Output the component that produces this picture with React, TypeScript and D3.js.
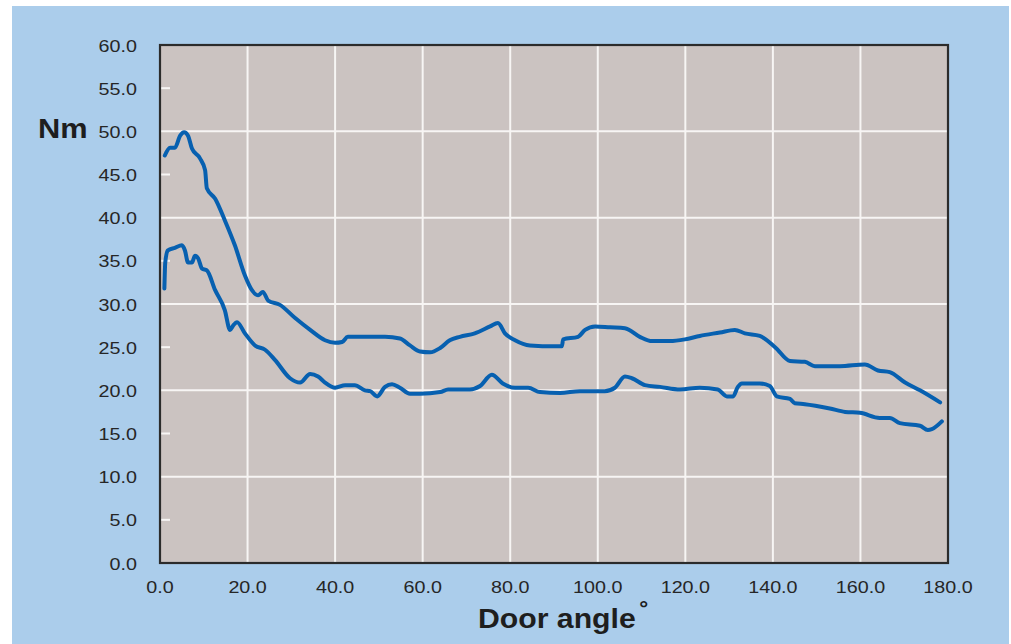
import { useEffect, useRef } from 'react';
import * as d3 from 'd3';

// upper curve (opening torque)
const upperAngle = [1.1, 2.3, 3.4, 4.6, 5.5, 6.4, 7.3, 9.1, 10.3, 10.7, 12.6, 14.8, 17.1, 19.4, 21.0, 22.4, 23.5, 24.7, 27.4, 30.8, 34.3, 37.7, 40.0, 41.6, 42.9, 46.8, 51.4, 54.8, 57.1, 59.4, 61.7, 64.0, 66.2, 68.5, 71.9, 75.4, 77.2, 78.8, 81.1, 84.5, 90.2, 91.8, 92.1, 95.5, 97.1, 99.4, 102.8, 106.2, 109.6, 112.4, 116.5, 119.9, 123.3, 127.9, 131.3, 133.6, 137.0, 140.5, 143.9, 147.3, 149.6, 155.3, 161.0, 164.0, 166.7, 170.2, 173.6, 178.2];
const upperNm = [47.2, 48.1, 48.1, 49.5, 49.9, 49.5, 48.0, 46.9, 45.5, 43.4, 42.2, 39.7, 36.8, 33.3, 31.6, 31.0, 31.4, 30.4, 29.9, 28.4, 27.0, 25.8, 25.5, 25.6, 26.2, 26.2, 26.2, 26.0, 25.2, 24.5, 24.4, 24.9, 25.8, 26.2, 26.6, 27.4, 27.8, 26.6, 25.8, 25.2, 25.1, 25.1, 25.9, 26.2, 27.0, 27.4, 27.3, 27.2, 26.2, 25.7, 25.7, 25.9, 26.3, 26.7, 27.0, 26.6, 26.3, 25.0, 23.4, 23.3, 22.8, 22.8, 23.0, 22.3, 22.1, 20.9, 20.0, 18.6];

// lower curve
const lowerAngle = [1.0, 1.2, 1.8, 3.4, 5.0, 5.7, 6.4, 7.3, 8.0, 8.7, 9.6, 10.7, 12.6, 14.8, 16.0, 16.7, 17.6, 19.4, 21.7, 24.0, 26.3, 29.7, 32.0, 34.3, 36.1, 37.7, 40.0, 42.3, 44.5, 46.8, 48.0, 49.6, 51.4, 53.0, 54.8, 57.1, 59.4, 64.0, 65.8, 70.8, 73.1, 75.8, 78.3, 81.1, 84.1, 86.8, 91.4, 95.9, 101.6, 103.9, 106.2, 107.8, 110.8, 114.2, 118.8, 123.3, 127.4, 129.5, 130.9, 132.0, 132.9, 137.0, 139.3, 140.9, 143.9, 145.0, 147.3, 153.0, 156.5, 159.9, 164.4, 166.7, 169.0, 173.6, 175.4, 176.3, 178.6];
const lowerNm = [31.8, 34.8, 36.2, 36.5, 36.8, 36.2, 34.8, 34.8, 35.6, 35.3, 34.1, 33.9, 31.6, 29.3, 27.0, 27.5, 27.9, 26.6, 25.2, 24.7, 23.5, 21.4, 20.9, 21.9, 21.6, 20.9, 20.3, 20.6, 20.6, 20.0, 19.9, 19.3, 20.4, 20.7, 20.3, 19.6, 19.6, 19.8, 20.1, 20.1, 20.5, 21.8, 20.8, 20.3, 20.3, 19.8, 19.7, 19.9, 19.9, 20.3, 21.6, 21.4, 20.6, 20.4, 20.1, 20.3, 20.1, 19.3, 19.3, 20.4, 20.8, 20.8, 20.5, 19.3, 19.0, 18.5, 18.4, 17.9, 17.5, 17.4, 16.8, 16.8, 16.2, 15.9, 15.4, 15.5, 16.4];

const xMajor = [0, 20, 40, 60, 80, 100, 120, 140, 160, 180];
const yMajor = [0, 10, 20, 30, 40, 50, 60];
const yMinor = [5, 15, 25, 35, 45, 55];
const yTickLabels = [0, 5, 10, 15, 20, 25, 30, 35, 40, 45, 50, 55, 60];

const W = 1011;
const H = 644;
const font = '"Liberation Sans", Arial, Helvetica, sans-serif';
// the original type is a little wider than Liberation Sans
const stretch = 1.16;

export default function App() {
  const svgRef = useRef<SVGSVGElement>(null);

  useEffect(() => {
    if (!svgRef.current) return;
    const svg = d3.select(svgRef.current);
    svg.selectAll('*').remove();

    const x = d3.scaleLinear().domain([0, 180]).range([160, 948]);
    const y = d3.scaleLinear().domain([0, 60]).range([563, 45]);

    // page + blue panel
    svg.append('rect').attr('width', W).attr('height', H).attr('fill', '#ffffff');
    svg.append('rect')
      .attr('x', 12).attr('y', 6)
      .attr('width', 997).attr('height', H - 6)
      .attr('fill', '#abcdeb');

    // plot background
    svg.append('rect')
      .attr('x', x(0)).attr('y', y(60))
      .attr('width', x(180) - x(0)).attr('height', y(0) - y(60))
      .attr('fill', '#cbc3c1');

    // grid
    const grid = svg.append('g').attr('stroke', '#f7f5f4').attr('stroke-width', 2);
    xMajor.slice(1, -1).forEach(v => {
      grid.append('line').attr('x1', x(v)).attr('x2', x(v)).attr('y1', y(60)).attr('y2', y(0));
    });
    yMajor.slice(1, -1).forEach(v => {
      grid.append('line').attr('x1', x(0)).attr('x2', x(180)).attr('y1', y(v)).attr('y2', y(v));
    });
    yMinor.forEach(v => {
      grid.append('line').attr('x1', x(0)).attr('x2', x(0) + 10).attr('y1', y(v)).attr('y2', y(v));
    });

    // frame
    svg.append('rect')
      .attr('x', x(0)).attr('y', y(60))
      .attr('width', x(180) - x(0)).attr('height', y(0) - y(60))
      .attr('fill', 'none')
      .attr('stroke', '#2b2b2b')
      .attr('stroke-width', 2.2);

    // curves
    const line = d3.line<[number, number]>()
      .x(d => x(d[0]))
      .y(d => y(d[1]))
      .curve(d3.curveMonotoneX);

    const series: [number[], number[]][] = [[upperAngle, upperNm], [lowerAngle, lowerNm]];
    series.forEach(([a, v]) => {
      svg.append('path')
        .attr('d', line(a.map((ang, i) => [ang, v[i]] as [number, number])) || '')
        .attr('fill', 'none')
        .attr('stroke', '#0760b0')
        .attr('stroke-width', 4)
        .attr('stroke-linejoin', 'round')
        .attr('stroke-linecap', 'round');
    });

    // tick labels
    const labels = svg.append('g')
      .attr('font-family', font)
      .attr('font-size', 17)
      .attr('fill', '#262626');
    yTickLabels.forEach(v => {
      labels.append('text')
        .attr('transform', `translate(137,${y(v) + 6.5}) scale(${stretch},1)`)
        .attr('text-anchor', 'end')
        .text(v.toFixed(1));
    });
    xMajor.forEach(v => {
      labels.append('text')
        .attr('transform', `translate(${x(v)},593) scale(${stretch},1)`)
        .attr('text-anchor', 'middle')
        .text(v.toFixed(1));
    });

    // axis titles
    svg.append('text')
      .attr('transform', `translate(38,138) scale(1.14,1)`)
      .attr('font-family', font)
      .attr('font-size', 27)
      .attr('font-weight', 'bold')
      .attr('fill', '#1e1e1e')
      .text('Nm');

    const xt = svg.append('text')
      .attr('transform', `translate(563,628) scale(1.12,1)`)
      .attr('text-anchor', 'middle')
      .attr('font-family', font)
      .attr('font-size', 27)
      .attr('font-weight', 'bold')
      .attr('fill', '#1e1e1e');
    xt.append('tspan').text('Door angle');
    xt.append('tspan').attr('font-size', 20).attr('dx', 3).attr('dy', -13).text('°');
  }, []);

  return (
    <div style={{ position: 'fixed', left: 0, top: 0, width: W, height: H, overflow: 'hidden' }}>
      <svg ref={svgRef} width={W} height={H} style={{ display: 'block' }} />
    </div>
  );
}
